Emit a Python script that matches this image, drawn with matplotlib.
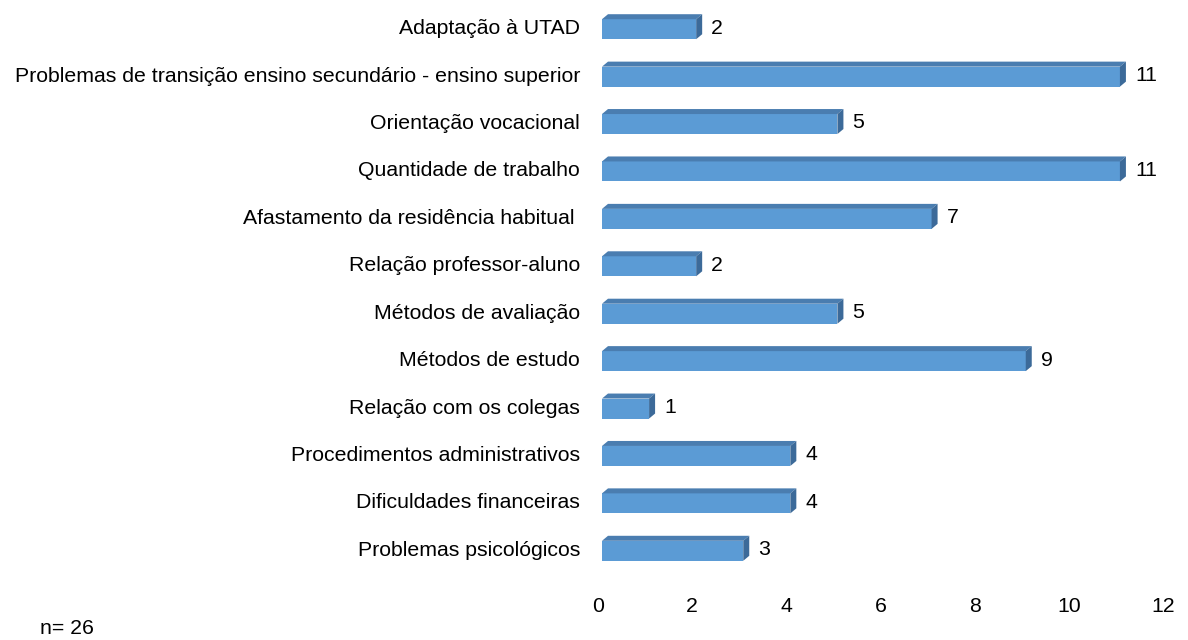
import matplotlib
matplotlib.use("Agg")
import matplotlib.pyplot as plt
from matplotlib.patches import Polygon

plt.rcParams['font.family'] = ['Liberation Sans', 'DejaVu Sans']

categories = [
    "Adaptação à UTAD",
    "Problemas de transição ensino secundário - ensino superior",
    "Orientação vocacional",
    "Quantidade de trabalho",
    "Afastamento da residência habitual ",
    "Relação professor-aluno",
    "Métodos de avaliação",
    "Métodos de estudo",
    "Relação com os colegas",
    "Procedimentos administrativos",
    "Dificuldades financeiras",
    "Problemas psicológicos",
]
values = [2, 11, 5, 11, 7, 2, 5, 9, 1, 4, 4, 3]
xticks = [0, 2, 4, 6, 8, 10, 12]

W, H = 1188, 640
fig = plt.figure(figsize=(W / 100, H / 100), dpi=100)
ax = fig.add_axes([598 / W, 1 - 572 / H, (1163 - 598) / W, (572 - 3) / H])

n = len(categories)
ax.set_xlim(0, 12)
ax.set_ylim(n - 0.5, -0.5)

# pixel -> data conversions for the fake 3D look
px_x = 12 / (1163 - 598)
px_y = n / (572 - 3)
shift = 4 * px_x          # front face offset
dx, dy = 6 * px_x, 5 * px_y  # depth
bh = 20 * px_y            # front face height

front_c = '#5B9BD5'
top_c = '#4A7DB0'
side_c = '#3C6A99'

fs = 15.3

for i, v in enumerate(values):
    x0, x1 = shift, v + shift
    yt, yb = i - bh / 2 + dy / 2, i + bh / 2 + dy / 2
    ax.add_patch(Polygon([(x0, yb), (x1, yb), (x1, yt), (x0, yt)],
                         closed=True, facecolor=front_c, edgecolor='none'))
    ax.add_patch(Polygon([(x0, yt), (x1, yt), (x1 + dx, yt - dy), (x0 + dx, yt - dy)],
                         closed=True, facecolor=top_c, edgecolor='none'))
    ax.add_patch(Polygon([(x1, yt), (x1 + dx, yt - dy), (x1 + dx, yb - dy), (x1, yb)],
                         closed=True, facecolor=side_c, edgecolor='none'))
    ax.text(x1 + dx + 9 * px_x, i + 0.03, str(v), ha='left', va='center', fontsize=fs)

ax.set_yticks(range(n))
ax.set_yticklabels(categories, fontsize=fs)
ax.set_xticks(xticks)
ax.set_xticklabels([str(t) for t in xticks], fontsize=fs)
ax.tick_params(axis='y', length=0, pad=13)
ax.tick_params(axis='x', length=0, pad=18)
for s in ax.spines.values():
    s.set_visible(False)

fig.text(40 / W, 1 - 629 / H, "n= 26", fontsize=fs, va='center', ha='left')

fig.savefig("out.png", dpi=100)
